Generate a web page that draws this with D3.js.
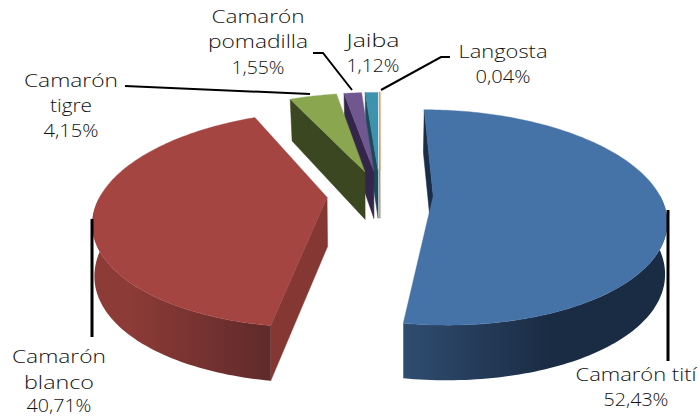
<!DOCTYPE html>
<html><head><meta charset="utf-8">
<script src="https://cdn.jsdelivr.net/npm/d3@7"></script>
<style>html,body{margin:0;padding:0;background:#fff;overflow:hidden}svg{display:block}text{font-family:"Open Sans",sans-serif;font-weight:300;font-size:18.5px;fill:#111;text-anchor:middle}</style>
</head><body><svg id="c" width="699" height="417"></svg>
<script>
const categories = ["Camarón tití","Camarón blanco","Camarón tigre","Camarón pomadilla","Jaiba","Langosta"];
const values = [52.43,40.71,4.15,1.55,1.12,0.04];
const labelLines = [["Camarón tití","52,43%"],["Camarón","blanco","40,71%"],["Camarón","tigre","4,15%"],["Camarón","pomadilla","1,55%"],["Jaiba","1,12%"],["Langosta","0,04%"]];
const topColors = ["#4572a7","#a44542","#8aa64e","#71578f","#3d92ad","#e69c5c"];
const faceColors = ["#1b2e47","#853733","#3a4720","#33264a","#1c4a5a","#8a5a30"];
const wallLight = ["#2f4c70","#8d3b37","#47572a","#3d2d58","#23586b","#8a5a30"];
const wallDark = ["#1a2c44","#5f2a2a","#3a4720","#33264a","#1c4a5a","#8a5a30"];

const labelX = [636,59,71,258,373,503];
const labelY = [[381,406],[363,389,412],[87,112,137],[23,48,74],[47,72],[58,83]];
const labelW = [[121,65],[94,70,65],[94,42,55],[93,100,53],[53,53],[89,55]];
const leaders = [
  [[668,210],[668,361]],
  [[92,219],[92,337]],
  [[125,86],[310,94]],
  [[313,53],[323,53],[352,90]],
  [],
  [[450,57],[441,57],[381,90]]
];

const cx=380, cy=194, A=226, B=102.6, persp=0.2, explode=0.235;
const svg=d3.select("#c"), defs=svg.append("defs");
const pie=d3.pie().sort(null).value(d=>d).startAngle(0).endAngle(2*Math.PI);
const arcs=pie(values);
const line=d3.line();
const depth=d3.scaleLinear().domain([-1.1,1]).range([42,55]);

function world(d,th,r){
  const mid=(d.startAngle+d.endAngle)/2;
  return [explode*Math.sin(mid)+r*Math.sin(th), -explode*Math.cos(mid)-r*Math.cos(th)];
}
function topPt(w){const p=1/(1-persp*w[1]);return [cx+A*w[0]*p, cy+B*w[1]*p];}
function botPt(w){const t=topPt(w),f=1-0.01*(1-Math.min(1,w[1]));return [cx+(t[0]-cx)*f, t[1]+depth(w[1])];}
function rim(d,a,b){const n=Math.max(2,Math.ceil((b-a)/0.02));return d3.range(n+1).map(i=>a+(b-a)*i/n).map(t=>world(d,t,1));}

arcs.forEach((d,i)=>{
  const g=defs.append("linearGradient").attr("id","w"+i).attr("gradientUnits","userSpaceOnUse");
  const xs=rim(d,d.startAngle,d.endAngle).map(topPt).map(p=>p[0]);
  const e=d3.extent(xs);
  g.attr("x1",i==0?e[0]:e[1]).attr("x2",i==0?e[1]:e[0]).attr("y1",0).attr("y2",0);
  g.append("stop").attr("offset",0).attr("stop-color",i==0?wallLight[i]:wallDark[i]);
  g.append("stop").attr("offset",i==0?0.55:0.8).attr("stop-color",i==0?wallDark[i]:wallLight[i]);
});

d3.range(arcs.length-1,-1,-1).forEach(i=>{
  const d=arcs[i], g=svg.append("g");
  const apex=world(d,0,0), s=world(d,d.startAngle,1);
  g.append("path").attr("d",line([topPt(apex),topPt(s),botPt(s),botPt(apex)])+"Z").attr("fill",faceColors[i]).attr("stroke",faceColors[i]).attr("stroke-width",0.5);
  const a=Math.max(d.startAngle,Math.PI/2), b=Math.min(d.endAngle,3*Math.PI/2);
  if(b>a){
    const r=rim(d,a,b);
    g.append("path").attr("d",line(r.map(topPt).concat(r.slice().reverse().map(botPt)))+"Z").attr("fill","url(#w"+i+")");
  }
  const all=rim(d,d.startAngle,d.endAngle).map(topPt);
  g.append("path").attr("d",line([topPt(apex)].concat(all))+"Z").attr("fill",topColors[i]).attr("stroke",topColors[i]).attr("stroke-width",i==5?1.2:0.4);
});

const lw=[3,3,2,2,2,2];
leaders.forEach((l,i)=>{ if(l.length) svg.append("path").attr("d",line(l)).attr("fill","none").attr("stroke","#000").attr("stroke-width",lw[i]); });
labelLines.forEach((ls,i)=>{
  const t=svg.append("text").attr("aria-label",categories[i]);
  ls.forEach((s,j)=>t.append("tspan").attr("x",labelX[i]).attr("y",labelY[i][j]).attr("textLength",labelW[i][j]).attr("lengthAdjust","spacingAndGlyphs").text(s));
});
</script></body></html>
